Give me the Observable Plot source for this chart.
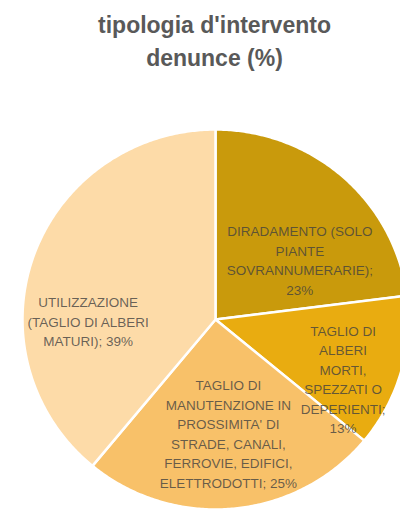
<!DOCTYPE html>
<html>
<head>
<meta charset="utf-8">
<script src="https://cdn.jsdelivr.net/npm/d3@7"></script>
<script src="https://cdn.jsdelivr.net/npm/@observablehq/plot@0.6"></script>
<style>
  html, body { margin: 0; padding: 0; background: #fff; }
  #wrap { width: 400px; height: 511px; overflow: hidden; position: relative; }
  #title {
    height: 90px; box-sizing: border-box; padding-top: 9px; padding-left: 29px;
    text-align: center; font-family: "Liberation Sans", Arial, sans-serif;
    font-weight: bold; font-size: 23px; line-height: 33px; color: #595959;
  }
  #chart svg { display: block; overflow: visible; }
</style>
</head>
<body>
<div id="wrap">
  <div id="title">tipologia d'intervento<br>denunce (%)</div>
  <div id="chart"></div>
</div>
<script>
// ---- data ----
const categories = [
  "DIRADAMENTO (SOLO PIANTE SOVRANNUMERARIE)",
  "TAGLIO DI ALBERI MORTI, SPEZZATI O DEPERIENTI",
  "TAGLIO DI MANUTENZIONE IN PROSSIMITA' DI STRADE, CANALI, FERROVIE, EDIFICI, ELETTRODOTTI",
  "UTILIZZAZIONE (TAGLIO DI ALBERI MATURI)"
];
const values = [23, 13, 25, 39];
const labelTexts = [
  "DIRADAMENTO (SOLO\nPIANTE\nSOVRANNUMERARIE);\n23%",
  "TAGLIO DI\nALBERI\nMORTI,\nSPEZZATI O\nDEPERIENTI;\n13%",
  "TAGLIO DI\nMANUTENZIONE IN\nPROSSIMITA' DI\nSTRADE, CANALI,\nFERROVIE, EDIFICI,\nELETTRODOTTI; 25%",
  "UTILIZZAZIONE\n(TAGLIO DI ALBERI\nMATURI); 39%"
];
const colors = ["#C99A0C", "#E9AC10", "#F8C169", "#FDDBA8"];

// label placement (layout, relative to each slice's mid-angle)
const labelAngleShift = [12.6, 8.9, -1.0, -20.2]; // degrees
const labelRadius = [0.54, 0.73, 0.60, 0.66];     // fraction of radius

// ---- build slice geometry from values ----
const table = categories.map((c, i) => ({cat: c, value: values[i], label: labelTexts[i]}));
const arcs = d3.pie().sort(null).value(d => d.value).startAngle(0).endAngle(2 * Math.PI)(table);

const polyPoints = [];
arcs.forEach(a => {
  polyPoints.push({cat: a.data.cat, x: 0, y: 0});
  const n = Math.max(8, Math.ceil((a.endAngle - a.startAngle) / 0.01));
  for (let k = 0; k <= n; k++) {
    const t = a.startAngle + (a.endAngle - a.startAngle) * k / n;
    polyPoints.push({cat: a.data.cat, x: Math.sin(t), y: Math.cos(t)});
  }
  polyPoints.push({cat: a.data.cat, x: 0, y: 0});
});

const labelPoints = arcs.map((a, i) => {
  const mid = (a.startAngle + a.endAngle) / 2 + labelAngleShift[i] * Math.PI / 180;
  const r = labelRadius[i];
  return {cat: a.data.cat, label: a.data.label, x: r * Math.sin(mid), y: r * Math.cos(mid)};
});

const chart = Plot.plot({
  width: 400,
  height: 421,
  x: {domain: [-1, 1], range: [22, 408], axis: null},
  y: {domain: [-1, 1], range: [419, 39], axis: null},
  color: {domain: categories, range: colors},
  style: {background: "transparent"},
  marks: [
    Plot.line(polyPoints, {
      x: "x", y: "y", z: "cat", fill: "cat",
      stroke: "white", strokeWidth: 2.5, curve: "linear", strokeLinejoin: "round"
    }),
    Plot.text(labelPoints, {
      x: "x", y: "y", text: "label",
      fill: "#404040", fillOpacity: 0.78,
      fontSize: 13.5, lineHeight: 1.44, textAnchor: "middle",
      fontFamily: "Liberation Sans, Arial, sans-serif"
    })
  ]
});
document.getElementById("chart").appendChild(chart);
</script>
</body>
</html>
